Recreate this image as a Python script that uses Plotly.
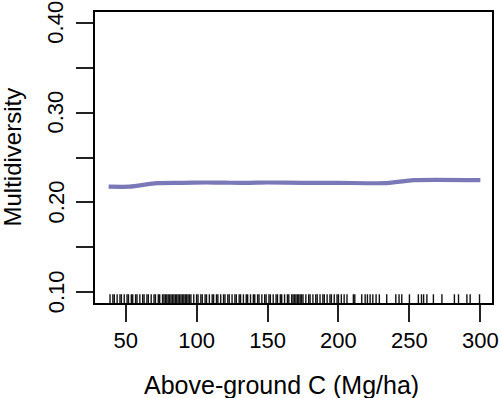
import plotly.graph_objects as go

# Fitted smooth curve
curve_x = [38, 53, 72, 90, 107, 120, 135, 150, 175, 200, 234, 253, 300]
curve_y = [0.2175, 0.2175, 0.2215, 0.2218, 0.2222, 0.2220, 0.2217, 0.2222, 0.2218, 0.2218, 0.2215, 0.2248, 0.2248]

# Rug of observed above-ground C values
rug_x = [39, 41, 42, 44, 46, 47, 49, 51, 52, 54, 55, 57, 58, 60, 62, 63, 65, 66, 68, 70,
         71, 73, 74, 76, 77, 78, 79, 80, 81, 82, 83, 84, 85, 86, 87, 88, 89, 90, 91, 92,
         93, 94, 95, 96, 98, 100, 101, 103, 104, 106, 107, 109, 111, 112, 114, 115, 117,
         119, 120, 122, 123, 125, 127, 128, 130, 131, 133, 135, 136, 138, 140, 141, 143,
         144, 146, 148, 149, 151, 152, 154, 156, 157, 159, 160, 162, 164, 165, 167, 168,
         169, 170, 171, 172, 173, 174, 175, 177, 179, 180, 182, 184, 185, 187, 189, 190,
         192, 194, 195, 197, 199, 200, 202, 204, 206, 210.5, 211.5, 216.4, 218.8, 220.4,
         222.3, 224.2, 226.5, 228.8, 234, 240.4, 242.7, 244.6, 250, 256.3, 258.5, 260,
         262.3, 266.9, 272.9, 281.7, 284.6, 290.5, 292.8, 299.4]

x_ticks = [50, 100, 150, 200, 250, 300]
y_ticks = [0.10, 0.15, 0.20, 0.25, 0.30, 0.35, 0.40]
y_labels = [0.10, 0.20, 0.30, 0.40]

x_range = [28.4, 308.2]
y_range = [0.0881, 0.4119]

# plot box in pixels (used for label placement)
L, R, T, B = 95, 492, 12, 303

rug_top = y_range[0] + 0.03 * (y_range[1] - y_range[0])
rx, ry = [], []
for v in rug_x:
    rx += [v, v, None]
    ry += [y_range[0], rug_top, None]

fig = go.Figure()
fig.add_trace(go.Scatter(x=rx, y=ry, mode="lines",
                         line=dict(color="#111111", width=1.4), hoverinfo="skip",
                         showlegend=False))
fig.add_trace(go.Scatter(x=curve_x, y=curve_y, mode="lines",
                         line=dict(color="#7a78b6", width=4.2, shape="spline", smoothing=0.6),
                         showlegend=False))

font = "Liberation Sans, Arial, sans-serif"
annotations = [
    dict(text="Above-ground C (Mg/ha)", xref="paper", yref="paper",
         x=(281.5 - L) / (R - L), y=-(385.5 - B) / (B - T),
         showarrow=False, font=dict(size=25, family=font), xanchor="center",
         yanchor="middle"),
    dict(text="Multidiversity", xref="paper", yref="paper",
         x=-(L - 12) / (R - L), y=0.5, textangle=-90,
         showarrow=False, font=dict(size=24, family=font), xanchor="center",
         yanchor="middle"),
]
for v in y_labels:
    annotations.append(dict(text=f"{v:.2f}", xref="paper", yref="y",
                            x=-(L - 56) / (R - L), y=v, textangle=-90,
                            showarrow=False, font=dict(size=22, family=font),
                            xanchor="center", yanchor="middle"))

fig.update_layout(
    width=500, height=398,
    margin=dict(l=L, r=500 - R, t=T, b=398 - B),
    plot_bgcolor="white", paper_bgcolor="white",
    font=dict(family=font, color="black"),
    xaxis=dict(range=x_range, tickvals=x_ticks, ticktext=[str(v) for v in x_ticks],
               showgrid=False, zeroline=False, showline=True, mirror=True,
               linecolor="black", linewidth=1.5, ticks="outside", ticklen=17,
               tickwidth=2, tickcolor="#222", tickfont=dict(size=22, family=font),
               ticklabelstandoff=0, automargin=False),
    yaxis=dict(range=y_range, tickvals=y_ticks, showticklabels=False,
               showgrid=False, zeroline=False, showline=True, mirror=True,
               linecolor="black", linewidth=1.5, ticks="outside", ticklen=17,
               tickwidth=2, tickcolor="#222", automargin=False),
    annotations=annotations,
)

fig.write_html("out.html", config={"displayModeBar": False},
               post_script="document.body.style.margin='0';document.body.style.padding='0';")
